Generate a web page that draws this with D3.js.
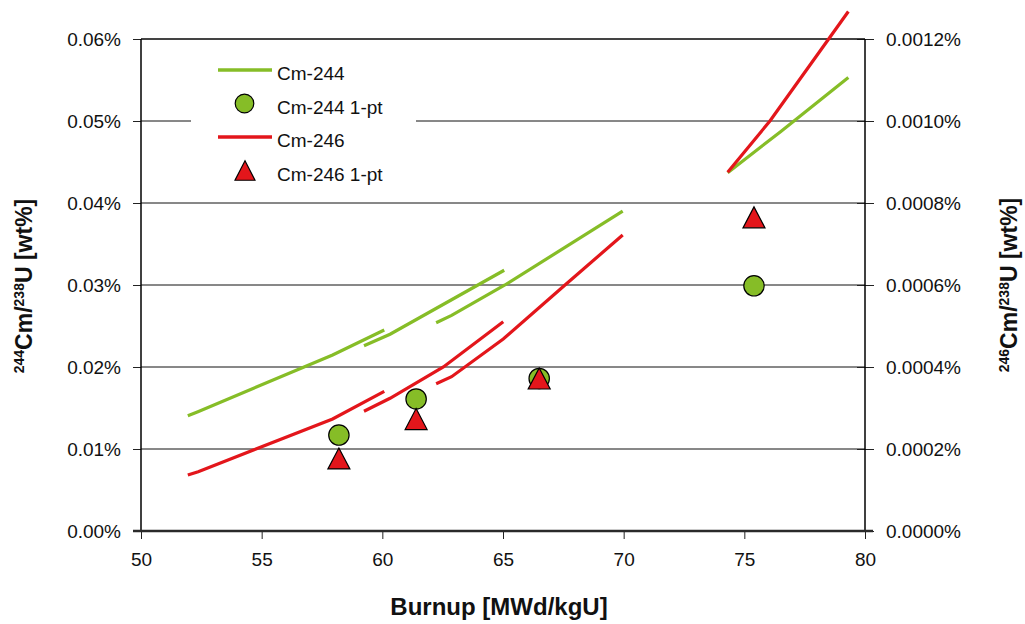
<!DOCTYPE html>
<html>
<head>
<meta charset="utf-8">
<script src="https://cdn.jsdelivr.net/npm/d3@7"></script>
<style>
  html, body { margin: 0; padding: 0; background: #fff; }
  svg { display: block; font-family: "Liberation Sans", Arial, sans-serif; }
</style>
</head>
<body>
<svg id="chart" width="1025" height="624"></svg>
<script>
// Cm-244 / U-238 model runs [burnup, wt%] (left axis)
const cm244Runs = [
  [[51.94, 0.01406], [52.36, 0.01455], [57.94, 0.02146], [60.08, 0.02451]],
  [[59.24, 0.0226], [60.32, 0.0240], [65.05, 0.0318]],
  [[62.23, 0.0254], [62.87, 0.0263], [65.08, 0.0300], [69.96, 0.0390]],
  [[74.31, 0.0437], [76.5, 0.0487], [79.31, 0.0553]]
];

// Cm-246 / U-238 model runs [burnup, wt%] (right axis)
const cm246Runs = [
  [[51.94, 0.0001366], [52.37, 0.0001447], [57.94, 0.0002732], [60.08, 0.0003407]],
  [[59.24, 0.000292], [60.32, 0.0003237], [62.53, 0.0004], [65.01, 0.0005105]],
  [[62.23, 0.0003593], [62.87, 0.0003763], [65.01, 0.0004683], [67.57, 0.0006], [69.96, 0.000722]],
  [[74.31, 0.000875], [76.06, 0.001], [79.31, 0.001267]]
];

// 1-pt estimates
const onePtBurnup = [58.2, 61.4, 66.5, 75.4];
const cm244OnePt = [0.0117, 0.0161, 0.0186, 0.0299];
const cm246OnePt = [0.000177, 0.000273, 0.000372, 0.000765];

const xTicks = [50, 55, 60, 65, 70, 75, 80];
const leftTicks = [0, 0.01, 0.02, 0.03, 0.04, 0.05, 0.06];
const rightTicks = [0, 0.0002, 0.0004, 0.0006, 0.0008, 0.0010, 0.0012];

const legendItems = [
  { label: "Cm-244", kind: "line", color: "#86bd27" },
  { label: "Cm-244 1-pt", kind: "circle", color: "#86bd27" },
  { label: "Cm-246", kind: "line", color: "#e3161b" },
  { label: "Cm-246 1-pt", kind: "triangle", color: "#e3161b" }
];

const GREEN = "#86bd27";
const RED = "#e3161b";

const svg = d3.select("#chart");
const plot = { left: 141, right: 865, top: 39, bottom: 531 };

const x = d3.scaleLinear().domain([50, 80]).range([plot.left, plot.right]);
const yL = d3.scaleLinear().domain([0, 0.06]).range([plot.bottom, plot.top]);
const yR = d3.scaleLinear().domain([0, 0.0012]).range([plot.bottom, plot.top]);

// Gridlines
svg.append("g")
  .selectAll("line")
  .data(leftTicks.filter(d => d > 0))
  .enter()
  .append("line")
  .attr("x1", plot.left)
  .attr("x2", plot.right)
  .attr("y1", d => yL(d))
  .attr("y2", d => yL(d))
  .attr("stroke", "#111")
  .attr("stroke-width", 1);

// Legend background hides the gridline behind it
svg.append("rect")
  .attr("x", 191).attr("y", 48)
  .attr("width", 225).attr("height", 145)
  .attr("fill", "#fff");

// Left axis
const leftAxis = svg.append("g")
  .attr("transform", `translate(${plot.left},0)`)
  .call(d3.axisLeft(yL).tickValues(leftTicks).tickSize(8).tickPadding(12)
    .tickFormat(d => d3.format(".2f")(d) + "%"));

// Right axis
const rightAxis = svg.append("g")
  .attr("transform", `translate(${plot.right},0)`)
  .call(d3.axisRight(yR).tickValues(rightTicks).tickSize(9).tickPadding(12)
    .tickFormat(d => d3.format(".4f")(d) + "%"));
rightAxis.selectAll(".tick line").attr("x1", -8);

// Bottom axis
const bottomAxis = svg.append("g")
  .attr("transform", `translate(0,${plot.bottom})`)
  .call(d3.axisBottom(x).tickValues(xTicks).tickSize(8).tickPadding(14)
    .tickFormat(d3.format("d")));

[leftAxis, rightAxis, bottomAxis].forEach(g => {
  g.select(".domain").remove();
  g.selectAll(".tick line").attr("stroke", "#222").attr("stroke-width", 1);
  g.selectAll(".tick text")
    .attr("fill", "#111")
    .attr("font-size", "19px")
    .attr("font-family", "'Liberation Sans', Arial, sans-serif");
});
leftAxis.selectAll(".tick text").attr("dy", "0.36em");
rightAxis.selectAll(".tick text").attr("dy", "0.36em");

// Frame lines
svg.append("line")
  .attr("x1", plot.left).attr("x2", plot.left)
  .attr("y1", plot.top).attr("y2", plot.bottom)
  .attr("stroke", "#000").attr("stroke-width", 1.5);
svg.append("line")
  .attr("x1", plot.right).attr("x2", plot.right)
  .attr("y1", plot.top).attr("y2", plot.bottom)
  .attr("stroke", "#000").attr("stroke-width", 1.5);
svg.append("line")
  .attr("x1", plot.left).attr("x2", plot.right)
  .attr("y1", plot.top).attr("y2", plot.top)
  .attr("stroke", "#000").attr("stroke-width", 1);
svg.append("line")
  .attr("x1", plot.left - 8).attr("x2", plot.right + 8)
  .attr("y1", plot.bottom).attr("y2", plot.bottom)
  .attr("stroke", "#2a2a2a").attr("stroke-width", 2.5);

// Model run lines
const lineL = d3.line().x(d => x(d[0])).y(d => yL(d[1]));
const lineR = d3.line().x(d => x(d[0])).y(d => yR(d[1]));

svg.append("g")
  .selectAll("path")
  .data(cm244Runs)
  .enter()
  .append("path")
  .attr("d", lineL)
  .attr("fill", "none")
  .attr("stroke", GREEN)
  .attr("stroke-width", 3.2);

svg.append("g")
  .selectAll("path")
  .data(cm246Runs)
  .enter()
  .append("path")
  .attr("d", lineR)
  .attr("fill", "none")
  .attr("stroke", RED)
  .attr("stroke-width", 3.2);

// Triangle path centred on its bounding box
function trianglePath(w, h) {
  return `M0,${-h / 2}L${w / 2},${h / 2}L${-w / 2},${h / 2}Z`;
}

// 1-pt markers
svg.append("g")
  .selectAll("circle")
  .data(onePtBurnup)
  .enter()
  .append("circle")
  .attr("cx", d => x(d))
  .attr("cy", (d, i) => yL(cm244OnePt[i]))
  .attr("r", 10.2)
  .attr("fill", GREEN)
  .attr("stroke", "#000")
  .attr("stroke-width", 1.2);

svg.append("g")
  .selectAll("path")
  .data(onePtBurnup)
  .enter()
  .append("path")
  .attr("transform", (d, i) => `translate(${x(d)},${yR(cm246OnePt[i])})`)
  .attr("d", trianglePath(22, 21))
  .attr("fill", RED)
  .attr("stroke", "#000")
  .attr("stroke-width", 1.2);

// Legend
const legend = svg.append("g").attr("transform", "translate(218,70)");
const rows = legend.selectAll(".legend-row")
  .data(legendItems)
  .enter()
  .append("g")
  .attr("class", "legend-row")
  .attr("transform", (d, i) => `translate(0,${i * 33.5})`);

rows.filter(d => d.kind === "line")
  .append("line")
  .attr("x1", 0).attr("x2", 54)
  .attr("y1", 0).attr("y2", 0)
  .attr("stroke", d => d.color)
  .attr("stroke-width", 3.5);

rows.filter(d => d.kind === "circle")
  .append("circle")
  .attr("cx", 26.5).attr("cy", 0)
  .attr("r", 9.3)
  .attr("fill", d => d.color)
  .attr("stroke", "#000")
  .attr("stroke-width", 1.2);

rows.filter(d => d.kind === "triangle")
  .append("path")
  .attr("transform", "translate(27,0)")
  .attr("d", trianglePath(20, 19.5))
  .attr("fill", d => d.color)
  .attr("stroke", "#000")
  .attr("stroke-width", 1.2);

rows.append("text")
  .attr("x", 59)
  .attr("y", 4)
  .attr("dy", "0.32em")
  .attr("fill", "#111")
  .attr("font-size", "19px")
  .text(d => d.label);

// Axis titles
svg.append("text")
  .attr("x", 499)
  .attr("y", 615)
  .attr("text-anchor", "middle")
  .attr("font-size", "24px")
  .attr("font-weight", "bold")
  .attr("fill", "#111")
  .text("Burnup [MWd/kgU]");

function isotopeTitle(x0, y0, massTop) {
  const t = svg.append("text")
    .attr("transform", `translate(${x0},${y0}) rotate(-90)`)
    .attr("text-anchor", "middle")
    .attr("font-weight", "bold")
    .attr("font-size", "23px")
    .attr("fill", "#111");
  t.append("tspan").attr("font-size", "14px").attr("dy", -8).text(massTop);
  t.append("tspan").attr("dy", 8).text("Cm/");
  t.append("tspan").attr("font-size", "14px").attr("dy", -8).text("238");
  t.append("tspan").attr("dy", 8).text("U [wt%]");
}
isotopeTitle(32, 286, "244");
isotopeTitle(1017, 285, "246");
</script>
</body>
</html>
